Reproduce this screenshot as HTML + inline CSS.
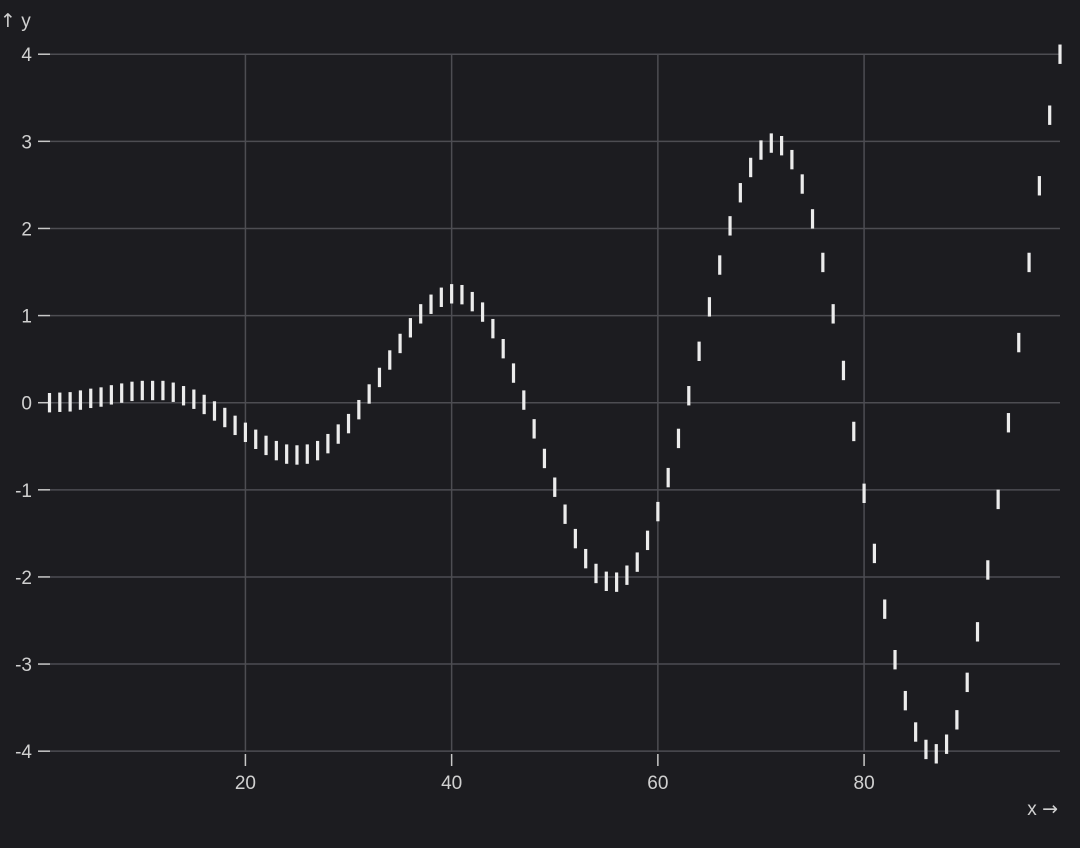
<!DOCTYPE html>
<html><head><meta charset="utf-8"><style>
html,body{margin:0;padding:0;background:#1c1c20;}
svg{display:block;font-family:"Liberation Sans",sans-serif;}
.arr{font-family:"DejaVu Sans",sans-serif;}
</style></head><body>
<svg id="chart" width="1080" height="848" viewBox="0 0 1080 848">
<rect width="1080" height="848" fill="#1c1c20"/>
<g id="grid"></g>
<g id="axes"></g>
<g id="marks"></g>
<text x="0" y="27" fill="#d0d0d0" font-size="19"><tspan class="arr">↑</tspan> y</text>
<text x="1058" y="815" fill="#d0d0d0" font-size="19" text-anchor="end">x <tspan class="arr">→</tspan></text>
</svg>
<script>
const xValues = [];
for (let i = 1; i <= 99; i++) xValues.push(i);
const yValues = [0.0,0.005,0.01,0.03,0.05,0.065,0.09,0.11,0.13,0.14,0.14,0.14,0.12,0.08,0.04,-0.02,-0.095,-0.17,-0.26,-0.34,
-0.42,-0.49,-0.55,-0.59,-0.6,-0.59,-0.55,-0.47,-0.36,-0.24,-0.08,0.1,0.29,0.49,0.68,0.86,1.02,1.13,1.21,1.25,
1.24,1.16,1.04,0.85,0.62,0.34,0.03,-0.3,-0.64,-0.97,-1.28,-1.56,-1.79,-1.96,-2.05,-2.06,-1.98,-1.83,-1.58,-1.25,
-0.86,-0.41,0.08,0.59,1.1,1.58,2.03,2.41,2.7,2.9,2.98,2.95,2.79,2.51,2.11,1.61,1.02,0.37,-0.33,-1.04,
-1.73,-2.37,-2.95,-3.42,-3.78,-3.98,-4.03,-3.92,-3.64,-3.21,-2.63,-1.92,-1.11,-0.23,0.69,1.61,2.49,3.3,4.0];
const xTicks = [20,40,60,80];
const yTicks = [-4,-3,-2,-1,0,1,2,3,4];

const NS = "http://www.w3.org/2000/svg";
const x = v => 49.5 + (v - 1) * (1060 - 49.5) / 98;
const y = v => 402.7 - v * 87.12;
function mk(tag, attrs, parent){const e=document.createElementNS(NS,tag);for(const k in attrs)e.setAttribute(k,attrs[k]);parent.appendChild(e);return e;}
const grid=document.getElementById('grid'), axes=document.getElementById('axes'), marks=document.getElementById('marks');
yTicks.forEach(t=>{
  const g=mk('line',{x1:50,x2:1060,y1:y(t),y2:y(t),stroke:'#4d4d52','stroke-width':1.5},grid);
  
  
  const tk=mk('line',{x1:38,x2:50,y1:y(t),y2:y(t),stroke:'#c8c8c8','stroke-width':1.5},axes);
  
  
  const lb=mk('text',{x:32,y:y(t)+7,fill:'#d0d0d0','font-size':19,'text-anchor':'end'},axes);
  lb.textContent=String(t);
  
  
});
xTicks.forEach(t=>{
  const g=mk('line',{x1:x(t),x2:x(t),y1:54,y2:752,stroke:'#4d4d52','stroke-width':1.5},grid);
  
  
  const tk=mk('line',{x1:x(t),x2:x(t),y1:754,y2:766,stroke:'#c8c8c8','stroke-width':1.5},axes);
  
  
  const lb=mk('text',{x:x(t),y:789,fill:'#d0d0d0','font-size':19,'text-anchor':'middle'},axes);
  lb.textContent=String(t);
  
  
});
xValues.forEach((xv,i)=>{
  const cy=y(yValues[i]);
  const m=mk('line',{x1:x(xv),x2:x(xv),y1:cy-9.7,y2:cy+9.7,stroke:'#ececec','stroke-width':3.2},marks);
  
  
});
</script>
</body></html>
